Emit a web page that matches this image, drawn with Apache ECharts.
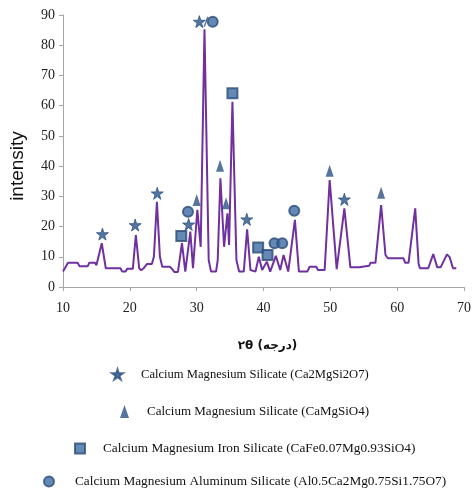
<!DOCTYPE html>
<html>
<head>
<meta charset="utf-8">
<script src="https://cdn.jsdelivr.net/npm/echarts@6/dist/echarts.min.js"></script>
<style>
  html, body { margin: 0; padding: 0; background: #fff; }
  #chart { width: 474px; height: 493px; }
</style>
</head>
<body>
<div id="chart"></div>
<script>
// XRD pattern: [2theta, intensity]
const pattern = [
  [10, 5.1], [10.75, 8], [12.2, 8], [12.45, 6.9], [13.7, 6.9], [13.95, 8], [14.8, 8], [15.0, 7.2],
  [15.8, 14.5], [16.4, 6.2], [18.6, 6.2], [18.85, 5.1], [19.35, 5.1], [19.6, 6], [20.45, 6],
  [20.9, 17.2], [21.4, 6.2], [21.7, 5.5], [22.05, 6.2], [22.55, 7.6], [23.3, 7.6], [23.6, 10],
  [24.05, 28.2], [24.5, 10], [24.85, 6.7], [26.0, 6.7], [26.35, 5.9], [26.65, 5], [27.2, 5],
  [27.8, 14.5], [28.3, 5.1], [29.05, 18.3], [29.45, 6.2], [30.1, 25.5], [30.6, 13.3],
  [31.17, 85.3], [31.8, 8.9], [32.15, 5.1], [32.9, 5.1], [33.15, 8.9], [33.55, 36], [34.1, 13.3],
  [34.6, 24.4], [34.85, 13.9], [35.35, 61.3], [35.95, 8.9], [36.35, 5.1], [37.05, 5.1],
  [37.55, 19.1], [38.05, 5.6], [38.8, 5.1], [39.3, 10], [39.8, 5.6], [40.5, 8.4], [41.0, 5.1],
  [41.85, 10.3], [42.5, 5.6], [43.0, 10.6], [43.7, 5.1], [44.7, 22.2], [45.3, 5.1], [46.55, 5.1],
  [46.9, 6.7], [47.9, 6.7], [48.15, 5.6], [49.15, 5.6], [49.9, 35.4], [50.95, 5.9], [52.1, 26],
  [53.0, 6.5], [54.3, 6.5], [54.55, 7], [55.8, 7], [56.0, 8], [56.75, 8], [57.6, 27.1],
  [58.25, 10.6], [58.6, 9.5], [60.95, 9.5], [61.2, 8], [61.7, 8], [62.7, 26], [63.2, 7.8],
  [63.4, 6.2], [64.65, 6.2], [65.4, 10.9], [66.0, 6.5], [66.5, 6.5], [67.45, 10.8], [67.85, 9.9],
  [68.35, 6.2], [68.85, 6.2]
]

// phase markers
const stars = [[15.9, 17.5], [20.8, 20.5], [24.1, 31], [28.8, 20.7], [30.4, 87.8], [37.5, 22.4], [52.1, 29]]
const triangles = [[30.0, 28.8], [33.5, 40.1], [34.4, 27.7], [49.9, 38.5], [57.6, 31.2]]
const squares = [[27.7, 16.9], [35.35, 64.1], [39.2, 13.1], [40.6, 10.6]]
const circles = [[28.7, 24.9], [32.4, 87.8], [41.65, 14.5], [42.8, 14.5], [44.6, 25.2]]
const slash = [[31.4, 87.8]]

const phaseNames = [
  'Calcium Magnesium Silicate (Ca2MgSi2O7)',
  'Calcium Magnesium Silicate (CaMgSiO4)',
  'Calcium Magnesium Iron Silicate (CaFe0.07Mg0.93SiO4)',
  'Calcium Magnesium Aluminum Silicate (Al0.5Ca2Mg0.75Si1.75O7)'
]

const xTicks = [10, 20, 30, 40, 50, 60, 70]
const yTicks = [0, 10, 20, 30, 40, 50, 60, 70, 80, 90]

const markColor = '#2C5384'
const starPath = 'path://M50,0 L61,35 L98,35 L68,57 L79,91 L50,70 L21,91 L32,57 L2,35 L39,35 Z'
const slashPath = 'path://M7,0 L10,0 L3,14 L0,14 Z'

const chart = echarts.init(document.getElementById('chart'))

// one legend per row, each placed by hand like the original
function legendRow (name, icon, left, top, w, h, pad, size) {
  return {
    data: [name],
    icon: icon,
    left: left,
    top: top,
    padding: 0,
    itemWidth: w,
    itemHeight: h,
    selectedMode: false,
    textStyle: { fontFamily: 'Liberation Serif', fontSize: size, color: '#111', padding: [0, 0, 0, pad] }
  }
}

chart.setOption({
  animation: false,
  grid: { left: 61, right: 7, top: 15, bottom: 206 },
  xAxis: {
    type: 'value',
    min: xTicks[0],
    max: xTicks[xTicks.length - 1],
    interval: 10,
    name: '۲θ (درجه)',
    nameLocation: 'middle',
    nameGap: 53,
    nameTextStyle: { fontFamily: 'DejaVu Sans', fontWeight: 'bold', fontSize: 12, color: '#111', padding: [0, 0, 0, 8] },
    axisLine: { lineStyle: { color: '#A6A6A6' } },
    axisTick: { show: true, length: 4, lineStyle: { color: '#A6A6A6' } },
    axisLabel: { fontFamily: 'Liberation Serif', fontSize: 14, color: '#222', margin: 14 },
    splitLine: { show: false }
  },
  yAxis: {
    type: 'value',
    min: yTicks[0],
    max: yTicks[yTicks.length - 1],
    interval: 10,
    name: 'intensity',
    nameLocation: 'middle',
    nameGap: 36,
    nameTextStyle: { fontFamily: 'Liberation Sans', fontSize: 19, color: '#111', padding: [0, 30, 0, 0] },
    axisLine: { show: true, lineStyle: { color: '#A6A6A6' } },
    axisTick: { show: true, length: 4, lineStyle: { color: '#A6A6A6' } },
    axisLabel: { fontFamily: 'Liberation Serif', fontSize: 14, color: '#222', margin: 8 },
    splitLine: { show: false }
  },
  legend: [
    legendRow(phaseNames[0], starPath, 111, 368, 11, 11, 13, 12.6),
    legendRow(phaseNames[1], 'triangle', 120, 405, 9, 13, 13, 13),
    legendRow(phaseNames[2], 'rect', 74, 442, 10, 10, 13, 13.3),
    legendRow(phaseNames[3], 'circle', 43, 475, 10, 10, 16, 13.3)
  ],
  series: [
    {
      name: 'pattern',
      type: 'line',
      data: pattern,
      symbol: 'none',
      lineStyle: { color: '#7030A0', width: 2 },
      z: 1
    },
    {
      name: phaseNames[0],
      type: 'scatter',
      data: stars,
      symbol: starPath,
      symbolSize: 12,
      itemStyle: { color: markColor, borderColor: markColor, borderWidth: 1 }
    },
    {
      name: phaseNames[1],
      type: 'scatter',
      data: triangles,
      symbol: 'triangle',
      symbolSize: [8, 12],
      itemStyle: { color: markColor }
    },
    {
      name: phaseNames[2],
      type: 'scatter',
      data: squares,
      symbol: 'rect',
      symbolSize: 10,
      itemStyle: { color: '#3F6CA3', borderColor: '#2A4C78', borderWidth: 2 }
    },
    {
      name: phaseNames[3],
      type: 'scatter',
      data: circles,
      symbol: 'circle',
      symbolSize: 10,
      itemStyle: { color: '#3F6CA3', borderColor: '#2A4C78', borderWidth: 2 }
    },
    {
      name: 'slash',
      type: 'scatter',
      data: slash,
      symbol: slashPath,
      symbolSize: [5, 10],
      itemStyle: { color: markColor }
    }
  ]
})
</script>
</body>
</html>
